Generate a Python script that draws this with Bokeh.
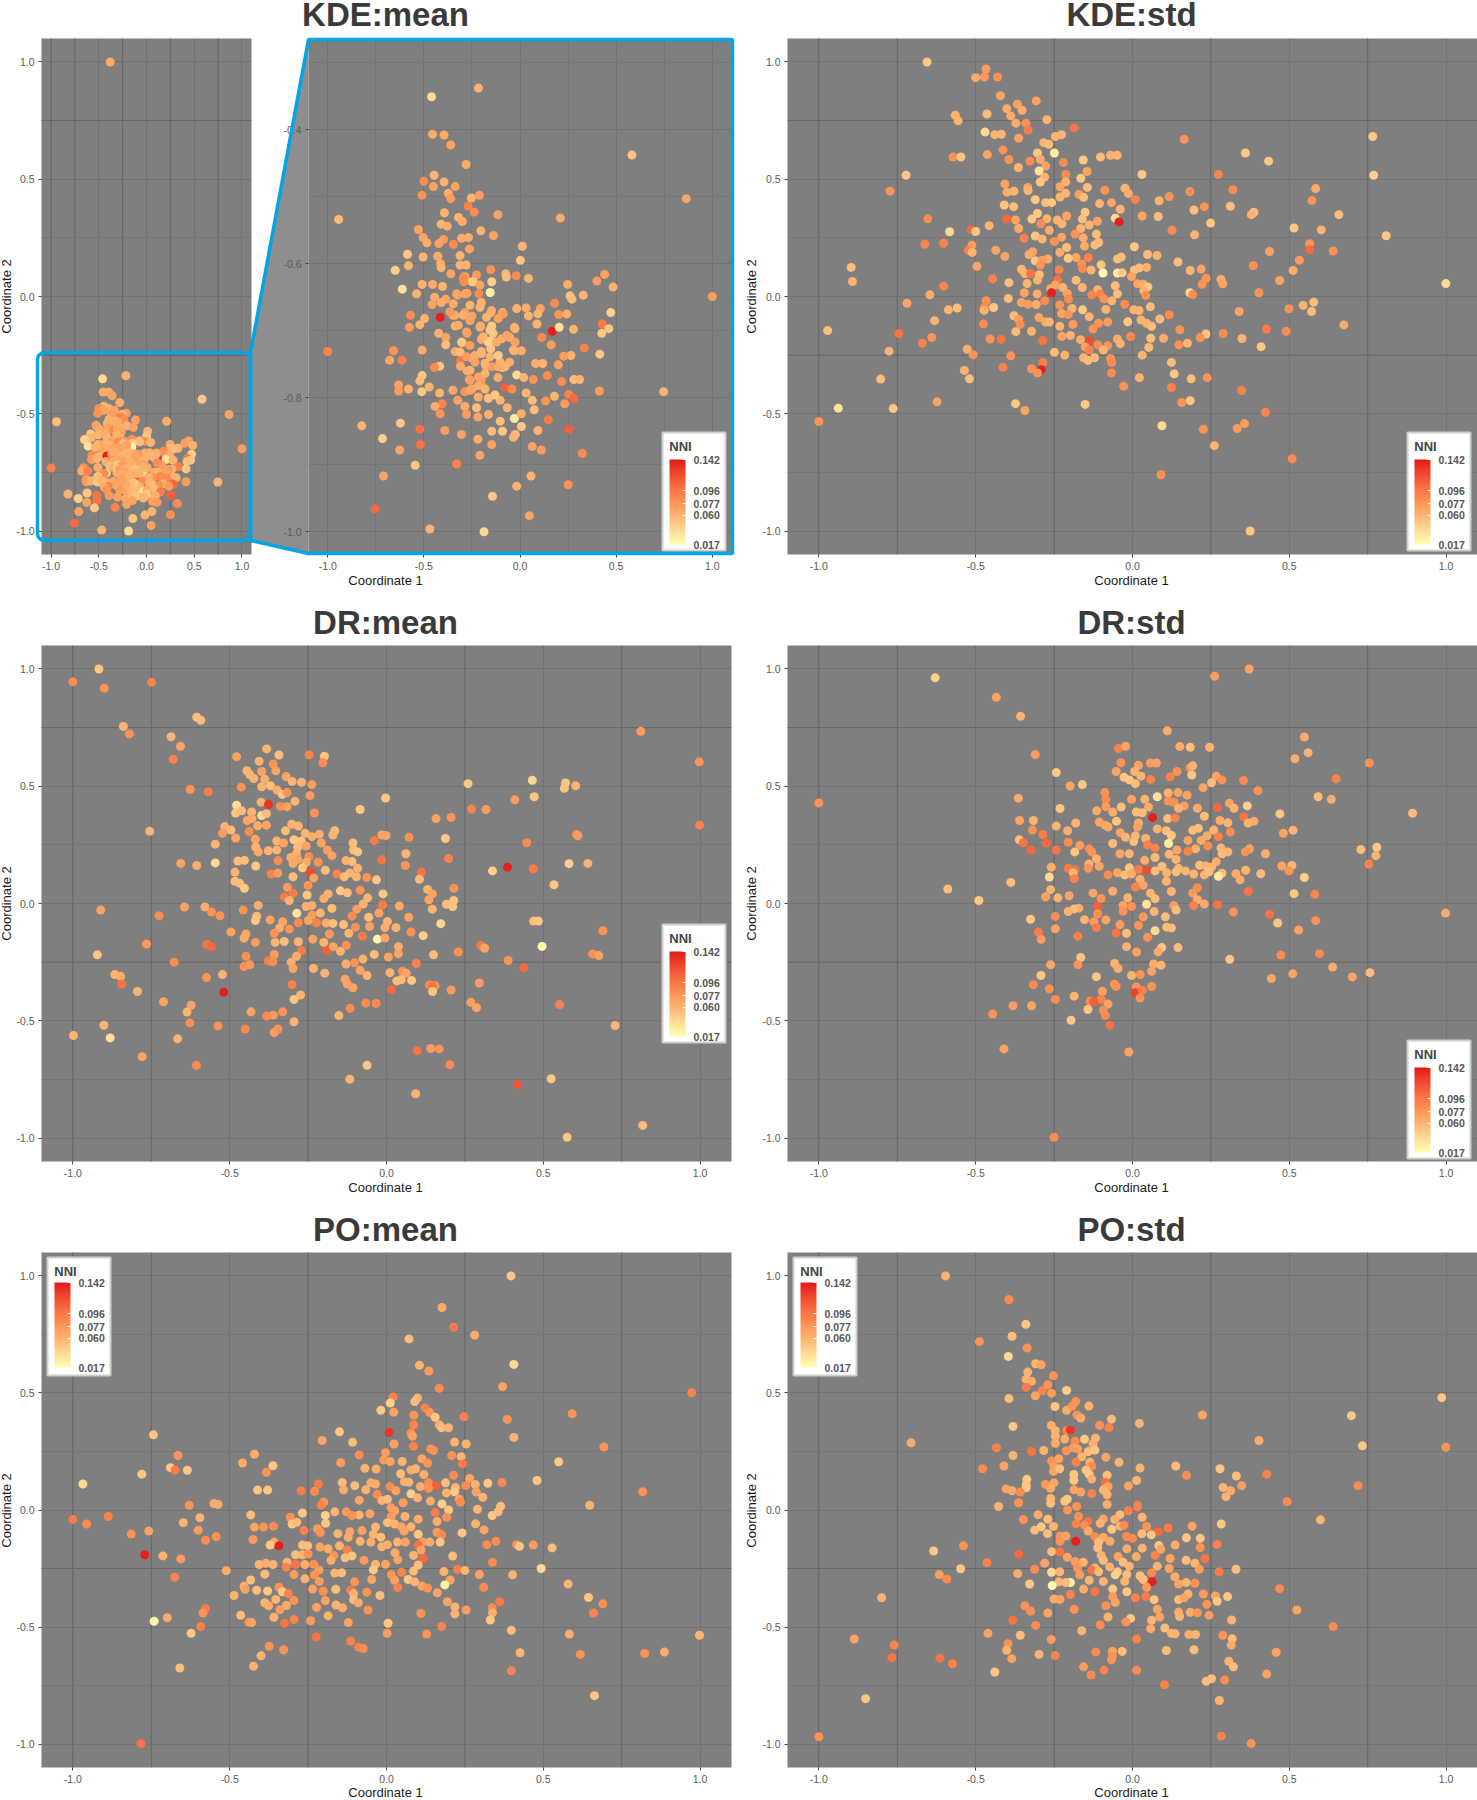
from bokeh.plotting import figure
from bokeh.layouts import column, row
from bokeh.models import (Range1d, FixedTicker, PrintfTickFormatter, ColumnDataSource, LinearColorMapper,
                          ColorBar, Label, Span, BoxAnnotation, PolyAnnotation, AllLabels)
from bokeh.embed import file_html
from bokeh.resources import INLINE

kde_mean = [(-.38,1.0,.065),(-.216,-.338,.06),(-.46,-.351,.04),(-.455,-.407,.065),(-.395,-.408,.065),(-.36,-.423,.07),(-.28,-.452,.065),(.582,-.438,.05),(-.447,-.468,.06),(-.5,-.477,.085),(-.395,-.478,.06),(-.337,-.485,.07),(-.45,-.485,.07),(-.373,-.495,.065),(-.51,-.498,.08),(-.211,-.498,.075),(-.253,-.502,.06),(-.36,-.503,.075),(.865,-.503,.07),(-.27,-.514,.09),(-.238,-.523,.085),(-.393,-.524,.06),(-.115,-.527,.07),(-.943,-.534,.055),(-.32,-.531,.06),(.21,-.532,.065),(-.41,-.541,.06),(-.3,-.537,.065),(-.378,-.544,.065),(-.528,-.549,.07),(-.204,-.551,.06),(-.504,-.561,.07),(-.484,-.569,.065),(-.398,-.564,.075),(-.422,-.57,.07),(-.346,-.571,.085),(-.304,-.562,.065),(-.268,-.561,.065),(-.138,-.558,.07),(.012,-.574,.06),(-.263,-.578,.07),(-.312,-.588,.06),(-.585,-.586,.05),(-.504,-.59,.06),(-.428,-.589,.065),(.002,-.595,.05),(-.413,-.6,.065),(-.41,-.606,.06),(-.58,-.603,.06),(-.649,-.61,.045),(-.28,-.602,.06),(-.312,-.602,.06),(-.152,-.609,.08),(-.36,-.615,.07),(-.074,-.615,.06),(-.02,-.618,.085),(.044,-.622,.06),(-.071,-.62,.055),(-.287,-.619,.075),(-.226,-.617,.075),(-.509,-.631,.06),(-.455,-.631,.065),(-.403,-.634,.06),(-.25,-.627,.05),(-.147,-.627,.045),(-.292,-.627,.085),(-.612,-.638,.035),(-.538,-.645,.06),(.4,-.626,.075),(.44,-.616,.07),(.248,-.631,.065),(.484,-.635,.06),(-.155,-.643,.025),(-.214,-.645,.085),(.329,-.647,.06),(.26,-.648,.055),(.27,-.653,.055),(1.0,-.649,.075),(-.444,-.65,.065),(-.386,-.653,.07),(-.324,-.647,.07),(-.275,-.644,.07),(-.201,-.658,.06),(-.457,-.661,.07),(-.41,-.658,.065),(.18,-.659,.085),(-.017,-.667,.06),(.032,-.666,.065),(.106,-.667,.07),(.472,-.673,.045),(.044,-.678,.06),(.093,-.675,.06),(.201,-.676,.08),(.243,-.675,.065),(-.57,-.677,.085),(-.496,-.682,.06),(-.415,-.68,.14),(-.25,-.678,.07),(-.349,-.677,.065),(-.287,-.673,.075),(-.152,-.673,.06),(-.091,-.673,.06),(.088,-.69,.06),(.428,-.69,.095),(.167,-.701,.14),(.204,-.695,.035),(.278,-.698,.06),(.462,-.697,.05),(.425,-.704,.05),(-.575,-.695,.075),(-.521,-.691,.06),(-.337,-.693,.06),(-.206,-.693,.06),(-.147,-.693,.05),(-.029,-.695,.065),(-.423,-.704,.06),(-.275,-.704,.075),(-.14,-.704,.05),(-.054,-.71,.065),(.113,-.71,.085),(.162,-.721,.075),(-.386,-.71,.07),(-.201,-.713,.065),(-.152,-.715,.05),(-.386,-.721,.055),(-.3,-.718,.07),(.334,-.726,.09),(-.509,-.729,.065),(-1.0,-.731,.09),(-.658,-.73,.08),(-.337,-.731,.065),(-.201,-.731,.06),(-.152,-.727,.05),(-.029,-.73,.065),(.007,-.73,.065),(.415,-.735,.05),(.265,-.737,.06),(.228,-.738,.075),(-.678,-.744,.065),(-.614,-.744,.09),(-.31,-.745,.095),(-.25,-.741,.065),(-.103,-.747,.06),(-.054,-.747,.065),(.081,-.749,.065),(.118,-.749,.06),(.199,-.751,.07),(-.418,-.753,.05),(-.31,-.753,.065),(-.177,-.753,.06),(-.147,-.754,.075),(-.091,-.755,.05),(-.445,-.755,.085),(-.509,-.767,.05),(-.521,-.775,.055),(-.275,-.76,.065),(-.017,-.766,.04),(.069,-.773,.08),(.142,-.767,.085),(.28,-.773,.055),(.31,-.773,.06),(.216,-.776,.085),(-.631,-.781,.07),(-.263,-.773,.07),(-.201,-.773,.075),(-.115,-.77,.065),(.02,-.77,.06),(-.631,-.79,.075),(-.58,-.787,.06),(-.511,-.791,.05),(-.472,-.784,.06),(-.418,-.793,.06),(-.349,-.789,.065),(-.287,-.791,.08),(-.25,-.787,.065),(-.201,-.781,.075),(-.079,-.785,.11),(-.042,-.787,.085),(.032,-.793,.06),(.413,-.79,.075),(.747,-.791,.06),(.179,-.798,.06),(.253,-.795,.09),(.28,-.801,.105),(-.324,-.804,.07),(-.164,-.801,.06),(-.103,-.804,.06),(.064,-.804,.055),(.133,-.805,.08),(.233,-.809,.075),(-.405,-.809,.09),(-.442,-.813,.065),(-.287,-.813,.065),(-.226,-.815,.055),(-.066,-.815,.06),(.074,-.818,.055),(-.415,-.824,.08),(-.278,-.825,.075),(-.219,-.829,.07),(-.164,-.825,.06),(-.103,-.835,.055),(-.029,-.831,.03),(.007,-.824,.065),(-.823,-.842,.06),(-.622,-.838,.05),(.147,-.833,.095),(.007,-.843,.05),(-.521,-.847,.1),(.253,-.847,.11),(-.391,-.849,.075),(-.305,-.855,.07),(-.219,-.862,.065),(-.147,-.85,.055),(-.091,-.85,.05),(-.025,-.855,.055),(.093,-.849,.06),(-.715,-.861,.045),(-.518,-.87,.1),(-.147,-.87,.07),(-.034,-.859,.06),(.064,-.873,.07),(.111,-.878,.075),(-.626,-.878,.07),(.324,-.883,.085),(-.209,-.886,.07),(-.545,-.901,.05),(-.329,-.899,.09),(-.71,-.917,.07),(.057,-.917,.06),(-.017,-.932,.06),(.251,-.93,.08),(-.143,-.947,.05),(-.754,-.966,.105),(.049,-.976,.07),(-.469,-.996,.06),(-.187,-1.0,.04)]

kde_mean_core = [(-.156,-.699,.05),(-.165,-.717,.045),(-.191,-.709,.06),(-.122,-.717,.065),(-.095,-.712,.065),(-.208,-.695,.065),(-.26,-.685,.07),(-.295,-.677,.06),(-.321,-.692,.065),(-.278,-.702,.07),(-.304,-.717,.05),(-.26,-.722,.075),(-.312,-.732,.055),(-.278,-.739,.075),(-.234,-.737,.065),(-.2,-.734,.06),(-.156,-.739,.06),(-.113,-.737,.05),(-.182,-.749,.06),(-.234,-.747,.07),(-.26,-.759,.06),(-.217,-.769,.07),(-.182,-.764,.06),(-.113,-.754,.065),(-.078,-.754,.06),(-.26,-.774,.07),(-.217,-.782,.065),(-.182,-.787,.06),(-.13,-.796,.05),(-.165,-.801,.055),(-.217,-.799,.065),(-.26,-.789,.07),(-.148,-.67,.065),(-.087,-.675,.075),(-.174,-.68,.06),(-.113,-.682,.07),(-.208,-.665,.06),(-.26,-.662,.06),(-.339,-.677,.065),(-.365,-.672,.075),(-.069,-.707,.07),(-.026,-.697,.06),(-.026,-.717,.07),(-.035,-.729,.06),(-.295,-.622,.085),(-.243,-.627,.05),(-.208,-.632,.07),(-.286,-.645,.07),(-.33,-.645,.07),(-.347,-.66,.065)]

kde_std = [(-.655,1.0,.05),(-.467,.97,.075),(-.5,.933,.065),(-.472,.936,.075),(-.43,.936,.08),(-.421,.856,.07),(-.307,.834,.07),(-.367,.82,.07),(-.401,.801,.065),(-.352,.794,.065),(-.565,.773,.06),(-.556,.749,.06),(-.464,.778,.055),(-.388,.77,.065),(-.273,.754,.06),(-.372,.739,.065),(-.34,.739,.08),(-.333,.71,.095),(-.186,.719,.1),(-.47,.701,.04),(-.439,.69,.06),(-.418,.692,.06),(-.363,.675,.07),(-.226,.69,.06),(-.246,.682,.06),(.165,.67,.08),(.766,.682,.05),(-.283,.656,.06),(-.267,.649,.055),(-.413,.625,.08),(-.249,.612,.03),(-.303,.612,.05),(-.463,.605,.07),(-.572,.595,.08),(-.547,.595,.05),(-.394,.584,.08),(-.327,.577,.085),(-.294,.584,.065),(-.157,.582,.05),(-.102,.595,.055),(-.07,.602,.06),(-.049,.602,.06),(.36,.612,.05),(.434,.577,.05),(-.22,.571,.085),(-.277,.556,.07),(-.364,.55,.06),(-.145,.533,.07),(-.722,.517,.05),(.03,.52,.05),(.769,.517,.045),(.274,.52,.09),(-.298,.535,.035),(-.213,.52,.085),(-.165,.504,.05),(-.28,.509,.06),(-.294,.488,.05),(-.213,.489,.06),(-.407,.48,.07),(-.773,.449,.08),(-.334,.465,.07),(-.231,.468,.07),(-.144,.465,.055),(-.4,.445,.065),(-.378,.449,.06),(-.333,.452,.06),(-.088,.453,.08),(-.024,.462,.06),(-.013,.439,.065),(.183,.447,.08),(.32,.455,.085),(.584,.46,.065),(-.213,.44,.06),(-.171,.436,.075),(-.231,.424,.06),(-.156,.423,.055),(.117,.426,.08),(-.31,.413,.05),(.009,.414,.09),(.085,.408,.06),(.572,.409,.08),(-.277,.4,.055),(-.258,.4,.05),(-.105,.396,.06),(-.067,.4,.07),(-.409,.39,.05),(-.379,.383,.055),(.229,.383,.08),(.312,.385,.055),(.387,.359,.055),(.379,.349,.06),(-.039,.372,.06),(.196,.369,.055),(.658,.349,.055),(-.303,.354,.05),(-.151,.359,.05),(.031,.343,.07),(.082,.341,.055),(-.321,.33,.05),(-.273,.331,.06),(-.21,.343,.07),(-.16,.33,.055),(-.24,.326,.06),(-.653,.331,.085),(-.401,.33,.105),(-.055,.334,.04),(-.043,.318,.14),(-.112,.321,.07),(-.138,.305,.06),(-.373,.326,.07),(-.225,.31,.06),(.249,.313,.05),(-.457,.302,.06),(-.363,.29,.065),(-.292,.31,.085),(.515,.292,.05),(.602,.284,.06),(-.583,.276,.04),(-.514,.285,.105),(-.5,.277,.05),(-.265,.282,.065),(.126,.282,.085),(-.165,.29,.06),(-.115,.266,.055),(-.183,.266,.08),(.198,.263,.06),(.809,.259,.05),(-.346,.248,.09),(-.31,.258,.05),(-.226,.253,.07),(-.249,.235,.08),(-.157,.25,.065),(-.288,.245,.06),(-.602,.227,.09),(-.662,.223,.09),(-.108,.23,.055),(.006,.212,.05),(.565,.225,.08),(-.512,.219,.075),(-.153,.215,.065),(-.12,.22,.055),(-.21,.209,.055),(.565,.199,.105),(-.523,.197,.09),(-.436,.197,.07),(.437,.192,.07),(.64,.194,.08),(-.318,.191,.07),(-.232,.188,.065),(-.511,.188,.06),(-.407,.171,.07),(-.33,.179,.065),(-.27,.16,.065),(-.141,.166,.09),(-.18,.166,.07),(.048,.179,.055),(.078,.175,.06),(-.036,.168,.055),(-.048,.16,.055),(-.205,.163,.05),(-.162,.139,.08),(-.31,.152,.05),(-.288,.155,.075),(.145,.147,.055),(.532,.155,.075),(-.897,.124,.055),(-.496,.129,.07),(.385,.131,.08),(-.1,.135,.05),(-.294,.134,.08),(.022,.122,.055),(.045,.124,.06),(.219,.117,.07),(.184,.111,.06),(.512,.111,.065),(-.354,.116,.06),(-.132,.113,.06),(-.159,.119,.085),(.006,.113,.055),(-.094,.1,.02),(-.048,.1,.03),(-.033,.101,.05),(-.343,.098,.06),(-.325,.098,.1),(-.234,.114,.09),(-.297,.093,.055),(-.003,.085,.07),(-.446,.075,.09),(-.18,.069,.055),(-.238,.073,.1),(-.303,.07,.06),(.235,.078,.08),(.282,.073,.065),(.469,.068,.07),(-.893,.064,.06),(-.394,.059,.055),(-.336,.055,.06),(.016,.054,.07),(.222,.052,.08),(.288,.054,.07),(.999,.055,.04),(.034,.052,.065),(-.055,.046,.055),(-.602,.044,.09),(.049,.041,.05),(-.16,.038,.06),(-.222,.038,.06),(-.261,.033,.065),(-.111,.029,.06),(-.246,.049,.07),(.036,.024,.06),(-.258,.016,.14),(-.208,.013,.07),(-.345,.016,.07),(-.304,.011,.065),(.183,.016,.04),(-.646,.007,.065),(-.103,.011,.09),(-.13,.007,.09),(.192,.008,.085),(.042,.005,.08),(-.048,.011,.055),(.403,.016,.08),(-.396,-.008,.055),(-.204,-.011,.085),(.578,-.024,.055),(-.467,-.018,.08),(-.719,-.029,.07),(-.28,-.018,.085),(-.354,-.026,.07),(-.066,-.018,.06),(-.091,-.01,.08),(-.333,-.033,.075),(-.307,-.034,.065),(-.232,-.036,.08),(-.025,-.033,.085),(.057,-.044,.055),(.544,-.038,.06),(-.587,-.057,.06),(-.559,-.049,.055),(-.472,-.046,.085),(-.443,-.047,.05),(-.473,-.059,.06),(-.193,-.051,.06),(-.159,-.057,.05),(.004,-.057,.06),(.021,-.06,.06),(.499,-.052,.08),(.571,-.064,.055),(.34,-.064,.07),(-.226,-.073,.07),(-.205,-.077,.08),(-.378,-.082,.055),(-.138,-.086,.06),(-.085,-.055,.06),(.117,-.078,.085),(-.631,-.103,.06),(-.298,-.09,.07),(.027,-.1,.06),(.087,-.096,.055),(-.363,-.098,.075),(-.277,-.109,.065),(-.265,-.109,.06),(-.475,-.117,.085),(-.358,-.119,.085),(-.108,-.114,.08),(-.079,-.109,.075),(-.015,-.108,.05),(-.19,-.119,.075),(.045,-.114,.06),(-.232,-.127,.06),(.061,-.127,.055),(.674,-.121,.065),(-.126,-.139,.08),(-.972,-.145,.055),(-.372,-.15,.055),(-.322,-.148,.06),(.151,-.142,.08),(.427,-.139,.095),(.49,-.148,.085),(-.745,-.158,.1),(.289,-.158,.085),(.234,-.16,.05),(-.64,-.175,.08),(-.198,-.166,.06),(-.225,-.17,.07),(-.454,-.181,.08),(-.419,-.183,.1),(-.286,-.188,.1),(-.166,-.184,.065),(-.138,-.189,.12),(-.048,-.181,.065),(-.006,-.171,.085),(.058,-.178,.055),(.099,-.178,.065),(.216,-.175,.08),(.349,-.179,.06),(-.67,-.199,.09),(.175,-.199,.06),(.148,-.206,.08),(-.039,-.201,.06),(-.111,-.206,.085),(-.151,-.215,.07),(-.079,-.21,.08),(.052,-.217,.055),(.41,-.214,.05),(-.527,-.225,.065),(-.776,-.233,.06),(-.138,-.228,.09),(-.093,-.228,.06),(-.249,-.238,.055),(-.508,-.248,.08),(-.216,-.25,.06),(-.388,-.253,.08),(.031,-.25,.06),(-.156,-.261,.06),(-.121,-.261,.055),(-.07,-.264,.08),(-.142,-.272,.055),(-.066,-.282,.085),(.124,-.281,.055),(-.286,-.281,.09),(-.413,-.302,.09),(-.322,-.308,.08),(-.291,-.312,.14),(-.536,-.315,.06),(-.303,-.326,.08),(-.067,-.326,.085),(.133,-.33,.05),(.022,-.346,.06),(-.803,-.352,.055),(-.52,-.351,.055),(.187,-.351,.055),(.238,-.346,.08),(-.028,-.383,.08),(.124,-.388,.09),(.348,-.401,.09),(-.623,-.449,.07),(.184,-.444,.05),(.157,-.452,.08),(-.373,-.457,.05),(-.151,-.46,.05),(-.938,-.476,.035),(-.763,-.478,.05),(-.343,-.486,.07),(.424,-.494,.09),(-1.0,-.533,.08),(.094,-.551,.04),(.357,-.542,.075),(.334,-.563,.075),(.226,-.566,.08),(.261,-.636,.06),(.509,-.692,.085),(.091,-.76,.08),(.375,-1.0,.05)]

dr_mean = [(-.917,1.0,.05),(-1,.945,.085),(-.9,.918,.08),(-.749,.943,.09),(-.605,.794,.055),(-.592,.781,.055),(-.839,.755,.06),(-.82,.723,.08),(.811,.734,.075),(-.687,.711,.06),(-.657,.67,.07),(-.68,.615,.09),(.997,.604,.08),(-.382,.659,.06),(-.343,.633,.055),(-.478,.626,.07),(-.247,.633,.09),(-.198,.628,.05),(-.203,.6,.085),(-.406,.607,.06),(-.361,.595,.08),(-.626,.486,.08),(-.568,.476,.095),(-.445,.566,.06),(-.398,.563,.07),(-.353,.566,.07),(-.436,.55,.06),(-.32,.541,.07),(-.423,.533,.06),(-.388,.53,.065),(-.301,.52,.06),(-.271,.517,.06),(-.238,.507,.075),(-.463,.496,.08),(-.398,.498,.06),(-.37,.502,.055),(-.349,.484,.065),(-.332,.465,.05),(-.317,.473,.08),(-.244,.46,.075),(.26,.511,.05),(.465,.525,.04),(.571,.514,.05),(.567,.491,.05),(.603,.502,.06),(.471,.455,.05),(.409,.442,.075),(-.003,.45,.05),(-.4,.432,.06),(-.292,.436,.06),(-.478,.419,.035),(-.376,.422,.13),(-.338,.414,.08),(-.317,.413,.07),(-.084,.401,.05),(.271,.403,.09),(.317,.401,.075),(-.23,.386,.08),(-.481,.386,.05),(-.462,.395,.055),(-.43,.39,.06),(-.398,.375,.04),(-.383,.383,.055),(.158,.362,.07),(.206,.367,.08),(-.302,.338,.06),(-.444,.354,.07),(-.429,.362,.065),(-.281,.33,.06),(-.411,.331,.065),(-.383,.334,.07),(-.516,.328,.06),(-.496,.313,.055),(-.322,.31,.055),(-.755,.308,.06),(-.523,.299,.075),(-.438,.307,.085),(-.165,.31,.055),(-.259,.299,.06),(-.238,.285,.065),(-.214,.295,.065),(-.171,.292,.06),(-.481,.279,.07),(-.015,.292,.07),(-.002,.29,.07),(.072,.282,.08),(.188,.277,.05),(.606,.294,.08),(.61,.289,.075),(.998,.334,.09),(-.418,.274,.07),(-.295,.272,.05),(-.35,.266,.06),(-.272,.266,.05),(-.039,.268,.095),(-.546,.253,.06),(-.328,.258,.07),(-.208,.258,.07),(.447,.259,.085),(-.107,.258,.055),(-.417,.241,.06),(-.283,.24,.055),(-.409,.22,.065),(-.35,.228,.06),(-.377,.225,.06),(-.256,.245,.07),(-.189,.228,.075),(-.105,.228,.055),(-.092,.22,.05),(.062,.212,.06),(-.287,.212,.06),(-.174,.204,.07),(-.248,.2,.08),(.198,.192,.09),(-.305,.196,.065),(-.283,.188,.07),(-.015,.186,.1),(-.346,.183,.085),(-.474,.181,.055),(-.453,.184,.055),(-.129,.183,.06),(-.11,.179,.055),(-.218,.176,.08),(-.256,.175,.065),(-.656,.171,.07),(-.605,.162,.065),(-.546,.173,.04),(-.417,.16,.05),(-.298,.171,.065),(.582,.17,.045),(.642,.171,.06),(.06,.162,.08),(.386,.155,.14),(.468,.148,.095),(.338,.139,.045),(-.092,.15,.06),(-.268,.152,.05),(-.195,.142,.055),(.111,.134,.1),(-.242,.132,.12),(-.483,.134,.06),(-.368,.126,.09),(-.347,.13,.075),(-.158,.126,.09),(-.117,.13,.06),(-.298,.114,.055),(-.232,.109,.07),(-.135,.114,.055),(-.063,.111,.08),(-.096,.114,.06),(-.032,.101,.05),(.105,.103,.055),(-.483,.095,.055),(-.468,.086,.055),(-.453,.065,.05),(-.316,.069,.075),(-.25,.077,.08),(.215,.065,.08),(.534,.08,.05),(.131,.06,.06),(-.147,.054,.05),(-.084,.057,.08),(-.125,.046,.055),(-.011,.041,.05),(.146,.041,.07),(-.253,.036,.05),(-.298,.044,.095),(-.326,.028,.095),(-.186,.041,.06),(-.2,.021,.065),(.135,.016,.07),(.214,.013,.05),(-.06,.024,.06),(-.31,.013,.06),(-.074,-.002,.06),(.191,-.003,.055),(.211,-.013,.05),(-.409,-.008,.065),(-.012,-.005,.095),(.041,-.011,.065),(-.644,-.015,.07),(-.579,-.015,.065),(-.238,-.008,.065),(-.911,-.028,.07),(.146,-.024,.06),(-.457,-.028,.08),(-.558,-.036,.08),(-.174,-.021,.055),(-.256,-.013,.06),(-.095,-.024,.075),(-.211,-.041,.06),(-.286,-.042,.035),(-.024,-.041,.07),(-.531,-.052,.08),(-.725,-.052,.085),(-.414,-.054,.055),(-.238,-.049,.075),(-.11,-.054,.085),(-.057,-.059,.055),(.071,-.059,.07),(-.371,-.07,.07),(-.418,-.073,.05),(-.249,-.073,.07),(-.281,-.082,.085),(-.331,-.078,.07),(-.223,-.082,.09),(.003,-.077,.06),(.469,-.075,.055),(.484,-.075,.05),(.173,-.086,.04),(-.137,-.09,.055),(-.192,-.083,.065),(-.171,-.085,.055),(-.054,-.098,.07),(.03,-.103,.06),(-.005,-.103,.065),(-.341,-.104,.065),(-.099,-.101,.08),(-.31,-.109,.08),(-.358,-.127,.08),(.078,-.122,.08),(-.496,-.121,.07),(.69,-.116,.08),(-.12,-.127,.06),(-.182,-.13,.075),(-.077,-.14,.095),(-.448,-.13,.07),(.117,-.137,.045),(-.454,-.147,.065),(-.029,-.152,.02),(-.005,-.147,.07),(-.235,-.152,.07),(-.326,-.162,.055),(-.355,-.166,.06),(-.281,-.163,.06),(-.2,-.166,.06),(-.765,-.173,.075),(-.418,-.166,.075),(-.573,-.175,.1),(-.558,-.184,.105),(.301,-.179,.095),(.496,-.183,.02),(.313,-.191,.07),(-.128,-.178,.08),(.038,-.184,.065),(-.191,-.201,.11),(-.271,-.201,.095),(-.17,-.184,.07),(.229,-.207,.08),(-.922,-.219,.05),(-.147,-.204,.06),(-.039,-.217,.055),(.038,-.214,.07),(.15,-.219,.055),(.657,-.215,.08),(.677,-.222,.07),(-.448,-.225,.08),(-.358,-.217,.075),(.006,-.228,.07),(-.287,-.225,.065),(-.677,-.25,.085),(-.377,-.245,.095),(-.362,-.248,.085),(.388,-.243,.08),(.095,-.256,.09),(-.304,-.25,.065),(-.075,-.237,.06),(-.129,-.258,.065),(-.102,-.253,.08),(-.436,-.261,.075),(-.454,-.269,.08),(-.298,-.277,.07),(-.233,-.277,.06),(.438,-.274,.105),(-.084,-.285,.07),(-.866,-.303,.06),(-.848,-.31,.065),(-.523,-.303,.06),(-.197,-.297,.06),(.011,-.295,.06),(.051,-.289,.08),(.063,-.297,.07),(-.062,-.307,.06),(-.574,-.316,.08),(.033,-.33,.055),(.047,-.325,.055),(.08,-.328,.05),(-.132,-.323,.07),(.296,-.339,.075),(-.844,-.343,.1),(-.125,-.343,.07),(-.301,-.346,.09),(.137,-.347,.085),(.155,-.351,.08),(.146,-.351,.1),(-.107,-.359,.07),(-.794,-.375,.06),(-.519,-.378,.14),(.015,-.367,.105),(.206,-.369,.075),(.147,-.375,.05),(-.274,-.39,.06),(-.295,-.409,.05),(-.711,-.419,.07),(.269,-.421,.075),(-.066,-.424,.085),(-.033,-.426,.085),(-.623,-.434,.07),(.287,-.444,.07),(.552,-.431,.09),(-.116,-.447,.085),(-.636,-.463,.06),(-.432,-.462,.07),(-.331,-.462,.08),(-.152,-.478,.06),(-.361,-.476,.075),(-.382,-.48,.085),(-.627,-.509,.085),(-.295,-.504,.06),(-.901,-.519,.06),(-.537,-.522,.08),(.729,-.52,.06),(-.451,-.535,.085),(-.346,-.535,.08),(-.358,-.55,.075),(-.998,-.563,.06),(-.881,-.573,.035),(-.666,-.577,.06),(.098,-.628,.1),(.141,-.618,.075),(.168,-.62,.08),(-.779,-.653,.07),(-.606,-.69,.085),(-.062,-.69,.05),(.202,-.687,.085),(-.117,-.749,.06),(.525,-.747,.05),(.418,-.772,.115),(.093,-.811,.06),(.817,-.946,.055),(.576,-.997,.05)]

dr_std = [(.372,1.0,.07),(.262,.969,.075),(-.629,.962,.045),(-.434,.879,.07),(-.357,.798,.06),(.111,.736,.065),(-.045,.661,.09),(-.022,.67,.07),(.151,.669,.065),(.184,.666,.055),(.246,.666,.06),(.548,.71,.065),(.518,.617,.065),(.56,.643,.06),(-.31,.635,.075),(.755,.599,.08),(.057,.599,.075),(.076,.599,.07),(.019,.589,.07),(-.037,.6,.08),(.184,.579,.08),(.192,.587,.06),(-.243,.558,.05),(-.052,.563,.07),(.142,.563,.08),(.189,.548,.05),(.007,.563,.06),(-.027,.538,.05),(.027,.543,.06),(-.01,.527,.05),(.058,.529,.09),(.12,.54,.09),(.267,.543,.07),(.009,.511,.055),(.285,.527,.08),(.354,.524,.085),(.252,.515,.055),(.225,.494,.07),(.649,.532,.09),(-.16,.507,.05),(-.199,.501,.07),(-.088,.473,.08),(.114,.471,.06),(.174,.462,.07),(.145,.473,.07),(.4,.481,.08),(.079,.455,.035),(.592,.455,.055),(.634,.444,.065),(-.364,.449,.065),(-.085,.444,.085),(-.003,.444,.07),(.039,.444,.06),(.114,.437,.08),(.132,.432,.08),(.309,.427,.07),(.165,.416,.075),(-.036,.411,.055),(.051,.411,.065),(.324,.406,.06),(.366,.416,.045),(-.085,.413,.075),(-.231,.405,.05),(.147,.406,.06),(.207,.406,.065),(-.114,.395,.065),(-.063,.39,.065),(.012,.39,.055),(.47,.382,.05),(.064,.367,.14),(.031,.387,.055),(.112,.362,.055),(.136,.365,.09),(.229,.372,.055),(.271,.409,.105),(.354,.37,.1),(.893,.385,.055),(-.36,.354,.07),(-.316,.354,.06),(-.106,.347,.07),(-.051,.351,.05),(.019,.343,.065),(.279,.354,.065),(.304,.344,.06),(.387,.351,.065),(.369,.343,.06),(-.088,.334,.07),(-.243,.33,.06),(-.181,.343,.06),(-.078,.326,.065),(.016,.326,.07),(.079,.318,.06),(.21,.321,.055),(.512,.312,.06),(.481,.299,.07),(-.319,.313,.08),(-.207,.31,.065),(-.039,.302,.07),(.108,.31,.055),(.192,.312,.055),(.259,.313,.06),(.312,.305,.085),(-.286,.294,.095),(.124,.29,.05),(.009,.289,.06),(.274,.285,.09),(.042,.277,.06),(-.022,.282,.06),(.177,.269,.07),(.219,.269,.065),(.238,.289,.065),(-.274,.258,.105),(-.205,.261,.085),(.115,.256,.03),(-.361,.272,.055),(-.348,.259,.1),(-.063,.256,.055),(.004,.264,.055),(.048,.25,.09),(.24,.245,.085),(-.168,.248,.075),(.072,.237,.09),(-.324,.228,.105),(-.243,.228,.1),(.142,.228,.07),(.201,.233,.06),(.282,.237,.06),(-.138,.233,.085),(-.13,.22,.08),(-.184,.22,.05),(.373,.233,.07),(.779,.24,.05),(.36,.22,.08),(.728,.23,.055),(.304,.22,.06),(-.04,.212,.07),(.117,.21,.06),(.177,.223,.09),(.424,.212,.065),(.286,.212,.055),(-.01,.212,.06),(-.115,.191,.06),(.776,.204,.06),(.139,.188,.06),(.072,.196,.055),(.039,.184,.065),(.754,.168,.09),(.267,.178,.065),(-.139,.168,.06),(-.106,.158,.07),(.214,.163,.055),(.234,.16,.06),(.476,.16,.07),(.508,.162,.06),(.252,.155,.06),(-.259,.155,.065),(-.01,.152,.05),(.094,.158,.055),(.147,.15,.06),(-.205,.15,.095),(-.183,.144,.1),(-.141,.15,.08),(.019,.145,.095),(.046,.142,.12),(.072,.139,.055),(.109,.131,.06),(.139,.135,.055),(.169,.139,.06),(.361,.142,.06),(.499,.139,.08),(-.048,.131,.07),(-.078,.122,.085),(-.025,.122,.055),(-.003,.126,.065),(.195,.126,.06),(.229,.122,.06),(.285,.129,.055),(.409,.127,.055),(.33,.127,.065),(-.189,.131,.06),(.244,.135,.055),(.274,.116,.03),(-.265,.113,.04),(-.186,.106,.09),(.548,.111,.045),(.024,.103,.065),(.108,.095,.06),(.343,.101,.065),(-.388,.09,.055),(.034,.078,.07),(.009,.07,.09),(.207,.067,.085),(-.589,.062,.055),(-.261,.059,.06),(-.063,.052,.065),(.369,.051,.1),(.515,.042,.05),(.581,.039,.09),(.057,.044,.06),(.124,.051,.06),(.192,.044,.075),(-.126,.044,.07),(-.277,.029,.07),(-.238,.024,.06),(-.202,.033,.07),(-.1,.021,.08),(-.015,.024,.06),(.072,.02,.055),(-.49,.013,.05),(.207,.016,.065),(.045,-.003,.035),(.229,-.002,.065),(.271,-.005,.1),(.195,-.008,.09),(.132,-.008,.075),(-.112,-.013,.11),(-.171,-.02,.065),(-.186,-.023,.055),(-.03,-.008,.07),(-.003,-.013,.08),(-.205,-.034,.06),(.139,-.028,.055),(.322,-.036,.08),(.998,-.041,.065),(-.03,-.033,.08),(.069,-.034,.06),(-.111,-.044,.08),(.034,-.057,.075),(-.325,-.067,.05),(-.246,-.055,.085),(.105,-.057,.055),(.437,-.046,.1),(.584,-.073,.08),(-.153,-.069,.06),(-.085,-.07,.07),(-.123,-.078,.075),(.463,-.083,.05),(.019,-.093,.08),(-.04,-.09,.075),(-.115,-.103,.095),(.109,-.101,.055),(.124,-.104,.055),(-.246,-.108,.07),(.53,-.113,.07),(.072,-.116,.04),(-.3,-.122,.095),(-.052,-.126,.1),(-.019,-.127,.055),(-.174,-.14,.09),(.048,-.144,.08),(-.291,-.153,.075),(.093,-.188,.05),(-.019,-.184,.06),(.145,-.188,.055),(.082,-.206,.065),(.013,-.207,.07),(.473,-.22,.085),(.596,-.214,.085),(-.165,-.23,.05),(.31,-.238,.05),(-.174,-.261,.08),(-.261,-.261,.07),(-.057,-.256,.06),(.067,-.258,.065),(.091,-.263,.06),(-.046,-.277,.065),(.638,-.271,.065),(.061,-.289,.07),(-.003,-.307,.06),(.025,-.303,.08),(-.292,-.307,.05),(.757,-.295,.055),(.511,-.3,.07),(.701,-.313,.07),(.443,-.32,.07),(-.115,-.312,.05),(-.316,-.346,.085),(-.058,-.344,.08),(-.052,-.354,.08),(-.265,-.364,.08),(.012,-.356,.08),(.061,-.354,.08),(-.096,-.374,.07),(.009,-.38,.125),(.031,-.37,.09),(-.186,-.395,.06),(.024,-.403,.08),(-.246,-.409,.085),(-.1,-.408,.09),(-.135,-.416,.085),(-.123,-.419,.11),(-.078,-.429,.07),(-.381,-.436,.075),(-.322,-.436,.07),(-.142,-.452,.05),(-.093,-.454,.085),(-.446,-.471,.08),(-.087,-.478,.085),(-.196,-.498,.05),(-.072,-.519,.1),(-.41,-.62,.07),(-.012,-.633,.07),(-.25,-.997,.085),(-1,.429,.08)]

po_mean = [(.397,1,.05),(.177,.865,.065),(.214,.781,.095),(.281,.747,.065),(.072,.731,.055),(.105,.618,.06),(.135,.594,.075),(.406,.622,.04),(.168,.52,.085),(.37,.527,.07),(.973,.501,.09),(.021,.483,.09),(.099,.478,.06),(.09,.463,.055),(.012,.457,.045),(-.018,.426,.05),(.023,.418,.07),(.123,.436,.09),(.138,.416,.08),(.155,.396,.05),(.087,.405,.08),(.247,.398,.09),(.592,.411,.08),(.385,.387,.08),(.087,.364,.09),(.168,.364,.065),(.176,.351,.055),(.198,.351,.06),(-.15,.334,.05),(.008,.331,.13),(.078,.328,.08),(.083,.315,.07),(-.743,.321,.05),(.406,.31,.06),(-.205,.297,.07),(-.108,.289,.055),(.024,.282,.07),(.217,.29,.06),(.254,.282,.06),(.086,.272,.09),(.693,.269,.08),(.141,.261,.08),(.15,.254,.08),(-.421,.238,.065),(-.665,.233,.08),(-.087,.235,.085),(-.003,.245,.075),(.208,.233,.08),(.238,.228,.06),(.549,.206,.05),(.113,.219,.07),(-.009,.214,.075),(.012,.207,.07),(.05,.207,.06),(.131,.201,.08),(-.459,.201,.065),(-.146,.202,.075),(.242,.197,.095),(-.362,.189,.05),(-.689,.181,.05),(-.674,.171,.095),(-.635,.17,.05),(-.069,.178,.06),(-.033,.175,.065),(.078,.171,.065),(.093,.176,.06),(-.383,.161,.08),(-.78,.153,.05),(.045,.155,.055),(.214,.148,.085),(.119,.152,.065),(.265,.135,.07),(.48,.126,.05),(.283,.109,.06),(.323,.114,.05),(.368,.117,.085),(.057,.121,.065),(.071,.119,.06),(.134,.117,.085),(-.141,.117,.055),(.188,.116,.055),(-.968,.111,.04),(-.217,.111,.095),(-.05,.116,.065),(-.035,.111,.065),(-.101,.104,.055),(.011,.1,.085),(.108,.1,.065),(.158,.103,.11),(.253,.104,.085),(.134,.093,.08),(.22,.096,.06),(.03,.082,.07),(.817,.078,.08),(-.411,.085,.05),(-.379,.085,.05),(-.272,.082,.095),(-.229,.08,.085),(-.137,.086,.065),(-.066,.086,.06),(-.03,.067,.085),(.078,.069,.045),(.191,.073,.06),(.217,.078,.05),(.099,.052,.06),(.286,.077,.07),(.307,.054,.06),(-.087,.042,.07),(-.015,.041,.06),(.003,.046,.055),(.232,.046,.07),(.053,.031,.075),(.14,.038,.065),(-.2,.034,.08),(.236,.033,.085),(-.55,.028,.065),(-.537,.024,.065),(-.629,.02,.08),(.177,.026,.045),(-.208,.021,.09),(.648,.02,.06),(.364,.016,.055),(.014,.01,.075),(.198,0,.05),(.29,.003,.06),(.026,-.003,.07),(-.165,-.008,.06),(-.128,-.008,.075),(.155,-.011,.095),(-.268,-.013,.05),(-.433,-.021,.055),(-.195,-.023,.045),(-.087,-.021,.06),(-.053,-.016,.07),(-1,-.041,.095),(-.887,-.028,.09),(-.595,-.033,.06),(-.307,-.031,.08),(-.11,-.024,.08),(.015,-.028,.075),(.059,-.028,.06),(.101,-.039,.065),(.192,-.031,.08),(.337,-.024,.05),(.356,-.008,.055),(-.956,-.06,.085),(-.648,-.054,.06),(-.301,-.06,.05),(-.286,-.052,.055),(-.194,-.057,.05),(.003,-.054,.055),(.026,-.06,.06),(.161,-.049,.065),(.284,-.059,.06),(-.421,-.073,.07),(-.392,-.073,.08),(-.361,-.07,.085),(.048,-.072,.07),(.078,-.072,.06),(-.035,-.073,.06),(.311,-.085,.07),(-.758,-.09,.07),(-.6,-.086,.075),(-.263,-.088,.09),(-.22,-.08,.075),(-.117,-.093,.07),(-.078,-.088,.07),(.056,-.09,.07),(.161,-.095,.075),(.241,-.098,.05),(-.814,-.103,.08),(-.155,-.101,.06),(-.211,-.096,.08),(-.042,-.104,.06),(.101,-.104,.05),(.176,-.106,.085),(-.543,-.114,.08),(-.577,-.129,.085),(-.426,-.126,.075),(-.122,-.117,.065),(-.018,-.116,.055),(-.358,-.137,.07),(.06,-.137,.07),(-.084,-.134,.06),(-.05,-.137,.065),(.035,-.137,.06),(.116,-.137,.075),(.138,-.137,.065),(.171,-.137,.05),(.349,-.134,.085),(.32,-.148,.085),(.415,-.148,.08),(.424,-.155,.05),(.468,-.15,.075),(.528,-.162,.055),(-.371,-.15,.05),(-.343,-.153,.14),(-.268,-.15,.055),(-.251,-.153,.055),(-.212,-.158,.07),(-.15,-.153,.06),(-.015,-.157,.06),(.003,-.148,.065),(.101,-.15,.1),(.11,-.171,.07),(-.186,-.166,.065),(-.29,-.191,.055),(-.268,-.191,.06),(-.25,-.188,.08),(-.168,-.194,.08),(-.125,-.171,.09),(.027,-.183,.065),(.086,-.194,.06),(-.713,-.196,.06),(-.771,-.191,.14),(-.656,-.209,.075),(-.11,-.196,.05),(-.132,-.204,.055),(.036,-.212,.07),(.117,-.207,.105),(-.072,-.215,.075),(-.177,-.215,.065),(.211,-.197,.055),(.338,-.223,.085),(-.406,-.233,.06),(-.385,-.228,.065),(-.362,-.233,.06),(-.317,-.223,.06),(-.29,-.233,.1),(-.26,-.233,.065),(-.232,-.232,.08),(-.003,-.232,.07),(-.035,-.232,.06),(.101,-.235,.055),(-.32,-.245,.09),(.493,-.25,.04),(-.511,-.259,.065),(-.215,-.256,.075),(-.042,-.256,.05),(.086,-.261,.055),(.183,-.263,.06),(.226,-.253,.095),(.25,-.258,.06),(-.165,-.269,.06),(-.143,-.268,.055),(.048,-.266,.09),(-.388,-.274,.055),(-.295,-.276,.075),(-.23,-.277,.08),(.015,-.276,.08),(.296,-.276,.07),(.402,-.277,.06),(-.675,-.287,.09),(-.26,-.294,.06),(-.214,-.305,.075),(-.047,-.297,.07),(-.433,-.299,.055),(.069,-.297,.05),(.09,-.307,.06),(.203,-.299,.07),(-.102,-.307,.08),(.026,-.3,.07),(.579,-.316,.06),(.186,-.32,.025),(-.454,-.326,.06),(.036,-.331,.09),(.113,-.325,.07),(.131,-.333,.08),(.31,-.33,.085),(-.343,-.33,.08),(-.236,-.338,.07),(-.162,-.339,.055),(-.451,-.339,.07),(-.414,-.343,.055),(-.379,-.346,.05),(-.332,-.349,.05),(-.114,-.343,.095),(-.202,-.347,.08),(.162,-.354,.07),(-.313,-.357,.09),(-.105,-.357,.06),(-.063,-.351,.08),(-.486,-.365,.06),(-.021,-.365,.055),(-.353,-.382,.06),(-.295,-.387,.08),(.644,-.374,.05),(.69,-.401,.08),(-.195,-.387,.07),(-.105,-.383,.055),(-.09,-.396,.065),(.194,-.392,.07),(-.388,-.396,.06),(-.376,-.409,.065),(-.319,-.408,.065),(-.161,-.406,.06),(-.14,-.418,.065),(.218,-.414,.06),(-.223,-.416,.07),(.361,-.392,.095),(.337,-.418,.085),(-.059,-.427,.08),(-.577,-.421,.095),(-.34,-.426,.075),(.254,-.427,.075),(-.585,-.44,.08),(.11,-.442,.08),(.218,-.444,.06),(.66,-.44,.09),(.338,-.439,.065),(-.465,-.45,.055),(-.359,-.458,.06),(-.699,-.46,.065),(-.186,-.452,.06),(.331,-.47,.05),(-.741,-.475,.025),(-.439,-.48,.08),(-.43,-.481,.07),(-.295,-.468,.09),(-.242,-.473,.075),(-.325,-.484,.1),(-.122,-.481,.07),(.005,-.484,.05),(-.592,-.498,.09),(.176,-.498,.09),(-.623,-.527,.05),(.398,-.514,.055),(.002,-.527,.075),(.128,-.53,.08),(.583,-.53,.065),(.998,-.535,.06),(-.224,-.543,.1),(-.114,-.56,.09),(-.089,-.586,.09),(-.074,-.592,.085),(-.374,-.582,.08),(-.328,-.597,.08),(-.4,-.623,.06),(.426,-.61,.06),(.618,-.617,.08),(.823,-.613,.08),(.886,-.607,.065),(-.424,-.667,.06),(-.659,-.675,.055),(.398,-.687,.09),(.663,-.793,.05),(-.783,-.998,.1)]

po_std = [(-.596,1,.06),(-.394,.899,.085),(-.34,.793,.05),(-.384,.742,.055),(-.488,.719,.08),(-.336,.692,.08),(-.396,.656,.04),(-.309,.625,.06),(-.291,.62,.07),(-.334,.589,.06),(-.252,.573,.08),(-.339,.558,.06),(-.322,.55,.065),(-.27,.535,.08),(-.339,.524,.095),(-.288,.509,.09),(-.258,.499,.075),(-.21,.511,.045),(-.31,.488,.07),(-.394,.476,.055),(-.181,.463,.08),(-.139,.444,.06),(-.247,.442,.05),(-.21,.426,.065),(-.192,.444,.08),(-.177,.406,.08),(-.165,.393,.065),(.223,.406,.07),(-.067,.388,.055),(.022,.37,.06),(-.105,.362,.08),(-.075,.352,.09),(-.259,.361,.065),(-.381,.357,.05),(-.246,.339,.06),(-.21,.339,.09),(-.198,.341,.13),(-.246,.315,.06),(-.183,.294,.085),(.403,.297,.065),(-.706,.287,.065),(-.153,.302,.05),(-.118,.307,.06),(-.216,.303,.065),(-.246,.285,.065),(-.126,.282,.06),(.733,.274,.05),(.999,.268,.08),(-.434,.266,.09),(-.189,.266,.075),(-.283,.254,.06),(-.322,.25,.1),(-.211,.253,.08),(-.175,.261,.07),(-.141,.25,.055),(-.12,.256,.05),(-.381,.233,.06),(-.162,.227,.06),(-.085,.225,.07),(-.258,.209,.08),(-.235,.219,.07),(-.18,.204,.09),(-.136,.204,.06),(-.043,.204,.06),(-.41,.188,.07),(-.25,.184,.07),(-.13,.188,.085),(.138,.188,.055),(.024,.179,.06),(.279,.176,.05),(-.478,.176,.085),(-.252,.165,.07),(-.232,.176,.055),(-.148,.171,.05),(.428,.153,.09),(.331,.145,.055),(-.081,.148,.055),(-.187,.152,.05),(.172,.148,.085),(-.138,.152,.05),(-.13,.132,.065),(-.337,.131,.05),(.013,.126,.06),(-.187,.127,.05),(-.087,.119,.1),(-.277,.109,.075),(-.25,.116,.07),(-.339,.108,.05),(-.013,.103,.07),(-.078,.1,.07),(.719,.104,.085),(.348,.104,.075),(.289,.096,.06),(-.403,.09,.07),(-.339,.095,.05),(-.261,.093,.065),(-.187,.086,.07),(-.093,.086,.06),(-.384,.082,.065),(-.358,.077,.085),(-.165,.077,.07),(-.13,.07,.09),(.313,.082,.065),(-.081,.065,.06),(.298,.057,.06),(-.261,.049,.06),(-.208,.046,.05),(-.216,.038,.05),(.493,.036,.085),(-.363,.031,.08),(-.261,.029,.055),(-.081,.024,.065),(.016,.021,.095),(-.427,.015,.06),(-.178,.015,.08),(-.207,0,.08),(-.013,-.003,.09),(.016,.013,.09),(-.301,-.02,.065),(-.04,-.02,.055),(.031,-.031,.06),(-.172,-.028,.08),(-.27,-.039,.055),(-.348,-.041,.08),(.599,-.042,.06),(-.093,-.038,.07),(-.057,-.041,.06),(-.142,-.049,.1),(-.153,-.064,.085),(-.103,-.057,.06),(-.18,-.059,.09),(.283,-.06,.05),(-.039,-.069,.06),(-.291,-.072,.05),(-.252,-.07,.06),(-.027,-.065,.085),(.045,-.07,.08),(.114,-.077,.095),(.19,-.069,.07),(-.312,-.086,.055),(-.066,-.082,.05),(-.141,-.09,.065),(.082,-.093,.105),(-.271,-.101,.055),(-.231,-.111,.08),(-.213,-.111,.07),(-.12,-.114,.085),(-.093,-.117,.065),(.03,-.101,.055),(.06,-.106,.05),(-.019,-.113,.085),(0,-.121,.085),(.172,-.119,.05),(.216,-.121,.05),(-.181,-.134,.14),(-.072,-.134,.065),(-.108,-.137,.055),(-.231,-.134,.08),(.27,-.147,.09),(.084,-.152,.05),(.136,-.15,.065),(-.111,-.162,.055),(-.539,-.153,.08),(-.634,-.175,.05),(-.018,-.166,.065),(.031,-.163,.06),(.216,-.16,.08),(-.258,-.178,.055),(-.231,-.179,.1),(.09,-.168,.07),(-.363,-.188,.105),(.072,-.194,.09),(-.1,-.194,.06),(.012,-.199,.065),(-.046,-.199,.07),(-.208,-.202,.07),(.12,-.207,.07),(.231,-.207,.1),(-.28,-.227,.07),(-.464,-.225,.09),(-.183,-.22,.075),(-.157,-.223,.06),(-.093,-.215,.055),(-.03,-.223,.055),(.171,-.215,.055),(.199,-.227,.06),(.079,-.24,.06),(-.175,-.248,.08),(-.12,-.248,.06),(-.073,-.243,.06),(-.01,-.24,.06),(-.548,-.251,.05),(-.312,-.253,.085),(.117,-.25,.07),(.213,-.253,.075),(.33,-.253,.055),(-.258,-.266,.04),(-.232,-.264,.06),(-.13,-.256,.1),(-.108,-.264,.055),(-.048,-.264,.05),(.061,-.268,.085),(.276,-.264,.095),(-.366,-.272,.065),(-.616,-.276,.075),(-.168,-.277,.075),(-.055,-.277,.045),(-.018,-.276,.055),(.024,-.281,.055),(-.592,-.295,.085),(.135,-.285,.065),(.034,-.297,.055),(-.235,-.307,.06),(-.198,-.31,.025),(-.138,-.3,.06),(-.093,-.305,.06),(-.025,-.305,.06),(.063,-.307,.14),(.171,-.31,.06),(.199,-.313,.08),(-.328,-.316,.05),(-.256,-.323,.02),(-.213,-.31,.055),(.147,-.316,.07),(.045,-.33,.075),(-.156,-.338,.065),(-.12,-.349,.1),(-.198,-.361,.09),(-.063,-.338,.05),(-.018,-.349,.05),(.226,-.359,.075),(.177,-.359,.06),(.469,-.336,.085),(.303,-.37,.05),(.264,-.367,.07),(-.25,-.38,.065),(-.231,-.382,.07),(-.063,-.37,.075),(.009,-.375,.09),(.042,-.37,.095),(.069,-.383,.05),(-.8,-.375,.06),(.147,-.383,.055),(.165,-.375,.07),(.27,-.39,.05),(.237,-.403,.08),(-.343,-.409,.08),(-.085,-.409,.08),(-.055,-.395,.07),(-.186,-.424,.08),(.079,-.424,.07),(.524,-.427,.07),(-.325,-.432,.08),(.147,-.436,.065),(.184,-.437,.065),(.207,-.439,.08),(-.27,-.44,.07),(.244,-.45,.075),(.15,-.455,.06),(-.078,-.457,.06),(.087,-.457,.07),(-.382,-.471,.1),(-.006,-.463,.05),(-.021,-.478,.08),(.316,-.47,.06),(.061,-.471,.06),(-.309,-.493,.085),(-.103,-.491,.085),(.64,-.498,.085),(.058,-.507,.065),(.103,-.504,.055),(-.162,-.516,.06),(-.461,-.527,.07),(.124,-.527,.06),(.136,-.529,.06),(.18,-.532,.065),(.201,-.532,.06),(-.358,-.535,.055),(.288,-.535,.08),(.318,-.55,.055),(-.887,-.551,.07),(-.259,-.553,.075),(.013,-.551,.09),(.315,-.577,.065),(-.76,-.577,.09),(-.397,-.571,.08),(-.401,-.599,.06),(-.064,-.604,.07),(-.033,-.604,.055),(.196,-.597,.055),(.108,-.6,.055),(.458,-.608,.07),(-.117,-.607,.085),(-.298,-.617,.06),(-.246,-.622,.09),(-.064,-.623,.08),(-.767,-.631,.1),(-.614,-.633,.1),(-.385,-.635,.07),(-.067,-.64,.08),(-.574,-.657,.09),(.307,-.646,.06),(.322,-.67,.055),(-.156,-.67,.075),(-.439,-.692,.05),(-.091,-.685,.09),(.013,-.685,.085),(-.132,-.705,.085),(.428,-.701,.07),(.252,-.721,.055),(.235,-.732,.055),(.294,-.726,.085),(.102,-.747,.09),(-.851,-.806,.05),(.277,-.814,.06),(-1.0,-.969,.08),(.283,-.966,.09),(.378,-.998,.08),(.698,.403,.05),(.986,.48,.05)]

xticks = [-1.0, -0.5, 0.0, 0.5, 1.0]
xminor = [-0.75, -0.25, 0.25, 0.75]
zoom_yticks = [-1.0, -0.8, -0.6, -0.4]
zoom_yminor = [-0.9, -0.7, -0.5, -0.3]
nni_ticks = [0.017, 0.060, 0.077, 0.096, 0.142]
NNI_LOW, NNI_HIGH = 0.017, 0.142

STOPS = ["#FFFFB2", "#FFDC95", "#FDB572", "#FC9455", "#F97243", "#EE4A2D", "#E31A1C"]
def make_palette(stops, n=256):
    rgb = [tuple(int(s[i:i + 2], 16) for i in (1, 3, 5)) for s in stops]
    out = []
    for k in range(n):
        t = k / (n - 1) * (len(rgb) - 1)
        i = min(int(t), len(rgb) - 2)
        f = t - i
        c = [round(rgb[i][j] + (rgb[i + 1][j] - rgb[i][j]) * f) for j in range(3)]
        out.append("#%02X%02X%02X" % tuple(c))
    return out

PAL = make_palette(STOPS)
FONT = "Liberation Sans"
BLUE = "#00A5E8"
LEFT_PAD = 3   # the left-column figures start this many px left of the page edge


def label(p, text, x, y, size, bold=False, color="#222222", angle=0.0, baseline="middle", place="center"):
    lab = Label(x=x, y=y, x_units="canvas", y_units="canvas", text=text, text_font=FONT,
                text_font_size=size, text_font_style="bold" if bold else "normal",
                text_color=color, text_align="center", text_baseline=baseline, angle=angle)
    p.add_layout(lab, place)


def panel(pts, w, h, left, right, top, bottom, yr=(-1.1, 1.1), ticks=xticks, minor=xminor,
          vstrong=(-1.0, -0.75, -0.25, 0.25, 0.75), hstrong=(0.75, -0.25), legend=None):
    p = figure(width=w, height=h, x_range=Range1d(-1.1, 1.1), y_range=Range1d(*yr),
               output_backend="svg", toolbar_location=None, min_border_left=left, min_border_right=right,
               min_border_top=top, min_border_bottom=bottom)
    p.background_fill_color = "#7F7F7F"
    p.border_fill_alpha = 0
    p.outline_line_color = None
    p.xaxis.ticker = FixedTicker(ticks=xticks, minor_ticks=xminor)
    p.yaxis.ticker = FixedTicker(ticks=ticks, minor_ticks=minor)
    for ax in (p.xaxis[0], p.yaxis[0]):
        ax.formatter = PrintfTickFormatter(format="%.1f")
        ax.axis_line_color = None
        ax.minor_tick_line_color = None
        ax.major_tick_line_color = "#444444"
        ax.major_tick_in = 0
        ax.major_tick_out = 3
        ax.major_label_standoff = 3
        ax.major_label_text_font = FONT
        ax.major_label_text_font_size = "10.5px"
        ax.major_label_text_color = "#5A5A5A"
    for g in (p.xgrid[0], p.ygrid[0]):
        g.grid_line_color = "#727272"
        g.minor_grid_line_color = "#767676"
        g.grid_line_width = 1
        g.minor_grid_line_width = 1
    for v in vstrong:
        p.add_layout(Span(location=v, dimension="height", line_color="#676767", line_width=1, level="underlay"))
    for v in hstrong:
        p.add_layout(Span(location=v, dimension="width", line_color="#676767", line_width=1, level="underlay"))
    src = ColumnDataSource(dict(x=[a[0] for a in pts], y=[a[1] for a in pts], v=[a[2] for a in pts]))
    mapper = LinearColorMapper(palette=PAL, low=NNI_LOW, high=NNI_HIGH)
    p.scatter("x", "y", source=src, size=9, line_color=None,
              fill_color={"field": "v", "transform": mapper})
    if legend is not None:
        bx, by = legend          # left and top of the white legend box, canvas px
        fl = left
        fb = h - bottom
        p.add_layout(BoxAnnotation(left=bx, right=bx + 63, top=by, bottom=by + 118, left_units="canvas",
                                   right_units="canvas", top_units="canvas", bottom_units="canvas",
                                   fill_color="white", fill_alpha=1, line_color="#CFCFCF", line_alpha=1,
                                   line_width=2, level="annotation"))
        label(p, "NNI", bx + 18, by + 14, "13px", bold=True, color="#444444")
        cb = ColorBar(color_mapper=mapper, ticker=FixedTicker(ticks=nni_ticks),
                      formatter=PrintfTickFormatter(format="%.3f"), width=16, height=85, padding=0, margin=0,
                      location=(bx + 7 - fl, fb - (by + 112)), major_label_policy=AllLabels(),
                      major_label_text_font=FONT, major_label_text_font_size="10.5px",
                      major_label_text_font_style="bold", major_label_text_color="#555555",
                      label_standoff=8, major_tick_line_color="white", major_tick_in=3, major_tick_out=0,
                      minor_tick_line_color=None, bar_line_color=None, background_fill_alpha=0,
                      border_line_color=None)
        p.add_layout(cb)
    return p


def titles(p, title, cx, tb, xl_y, yl_x=None, yl_y=None):
    label(p, title, cx, tb, "33px", bold=True, color="#3A3A3A", baseline="alphabetic", place="above")
    label(p, "Coordinate 1", cx, xl_y, "13px", color="#1A1A1A", place="below")
    if yl_x is not None:
        label(p, "Coordinate 2", yl_x, yl_y, "13px", color="#1A1A1A", angle=1.5708, place="left")


def layer(w, h, alpha=0.0):
    q = figure(width=w, height=h, x_range=Range1d(0, w), y_range=Range1d(h, 0), output_backend="svg",
               toolbar_location=None, min_border=0, x_axis_location=None, y_axis_location=None)
    q.grid.visible = False
    q.outline_line_color = None
    q.background_fill_alpha = alpha
    q.border_fill_alpha = alpha
    return q


LW, RW = 740, 737
A_W = 254
P = LEFT_PAD
# top-left pair: overview and zoomed panel, between a layer under them and a layer over them
a = panel(kde_mean + kde_mean_core, A_W + P, 600, 41 + P, 3, 38, 46)
a.margin = (0, 0, 0, -P)
b = panel(kde_mean + kde_mean_core, LW - A_W, 600, 54, 9, 38, 46, yr=(-1.034, -0.264), ticks=zoom_yticks,
          minor=zoom_yminor, vstrong=(), hstrong=(), legend=(662 - A_W, 432))
label(a, "Coordinate 2", 6 + P, 296, "13px", color="#1A1A1A", angle=1.5708, place="left")
titles(b, "KDE:mean", 385 - A_W, 14, 580)

under = layer(LW, 600)
under.add_layout(PolyAnnotation(xs=[250, 308, 308, 250], ys=[352, 38, 554, 540], xs_units="canvas", ys_units="canvas",
                                fill_color="#8E8E8E", fill_alpha=1, line_color=None, level="underlay"))
over = layer(LW, 600)
over.add_layout(BoxAnnotation(left=37, right=250, top=352, bottom=540, left_units="canvas", right_units="canvas",
                              top_units="canvas", bottom_units="canvas", fill_alpha=0, line_color=BLUE,
                              line_alpha=1, line_width=3.5, border_radius=7, level="overlay"))
over.add_layout(PolyAnnotation(xs=[250, 308, 732, 732, 308, 250], ys=[352, 39, 39, 553, 553, 540],
                               xs_units="canvas", ys_units="canvas", fill_alpha=0, line_color=BLUE,
                               line_alpha=1, line_width=3.5, level="overlay"))
top_pair = row(a, b, margin=(-600, 0, 0, 0))
over.margin = (-600, 0, 0, 0)
top_left = column(under, top_pair, over)

r1 = panel(kde_std, RW, 600, 47, 0, 38, 46, legend=(1407 - LW, 432))
titles(r1, "KDE:std", 391, 14, 580, 11, 296)
l2 = panel(dr_mean, LW + P, 600, 41 + P, 9, 45, 39, legend=(662 + P, 324))
l2.margin = (0, 0, 0, -P)
titles(l2, "DR:mean", 385 + P, 22, 587, 6 + P, 303)
r2 = panel(dr_std, RW, 600, 47, 0, 45, 39, legend=(1407 - LW, 440))
titles(r2, "DR:std", 391, 22, 587, 11, 303)
l3 = panel(po_mean, LW + P, 600, 41 + P, 9, 52, 31, hstrong=(-0.25,), legend=(47 + P, 57))
l3.margin = (0, 0, 0, -P)
titles(l3, "PO:mean", 385 + P, 29, 592, 6 + P, 310)
r3 = panel(po_std, RW, 600, 47, 0, 52, 31, hstrong=(-0.25,), legend=(793 - LW, 57))
titles(r3, "PO:std", 391, 29, 592, 11, 310)

root = column(row(top_left, r1), row(l2, r2), row(l3, r3))
open("out.html", "w").write(file_html(root, INLINE))
